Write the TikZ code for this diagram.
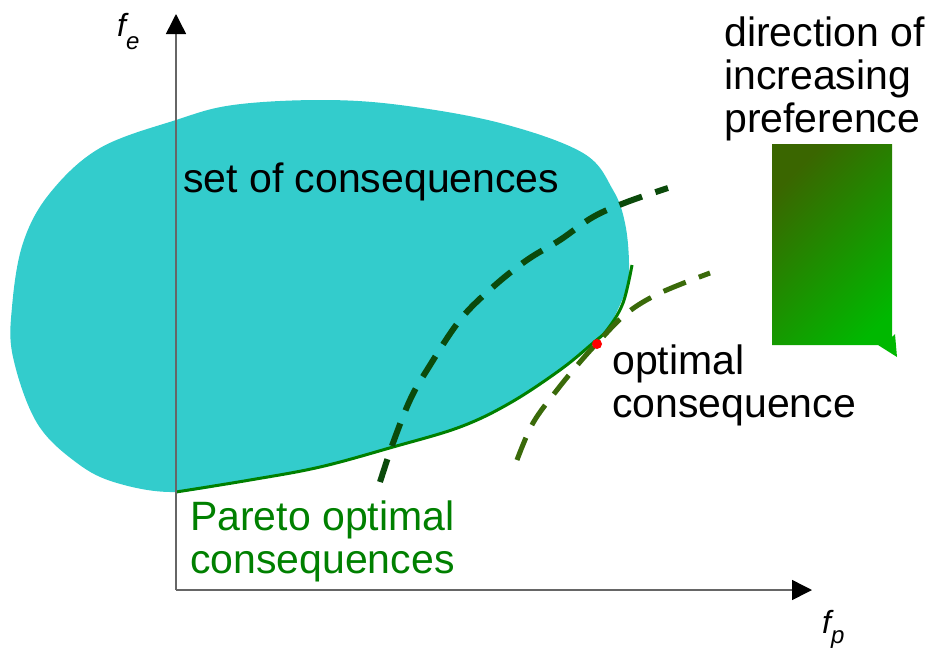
\documentclass[tikz,border=0pt]{standalone}
\usepackage{fontspec}
\setmainfont{Liberation Sans}
\usetikzlibrary{arrows.meta}
\definecolor{blob}{HTML}{33CCCC}
\definecolor{pareto}{HTML}{008000}
\definecolor{dashA}{HTML}{0B4A0B}
\definecolor{dashB}{HTML}{3A6A0A}
\definecolor{shadeA}{HTML}{3A6600}
\definecolor{shadeM}{HTML}{10A500}
\definecolor{shadeB}{HTML}{00B800}
\begin{document}
\begin{tikzpicture}[x=1pt,y=-1pt,
  axis/.style={draw=black!60, line width=1.5pt, -{Triangle[length=20pt,width=20pt,color=black]}},
  lbl/.style={inner sep=0pt, font=\fontsize{41}{43}\selectfont, anchor=base west, align=left},
  prefline/.style={line width=6pt, dash pattern=on 24pt off 14pt},
  axlbl/.style={inner sep=0pt, anchor=base west, font=\fontsize{32}{34}\selectfont\itshape}
]
\useasboundingbox (0,0) rectangle (943,649);

% set of consequences
\fill[blob] plot[smooth cycle, tension=0.6] coordinates {
  (176,492) (117,483) (77,463) (37,423) (13,357) (12,307) (23,243) (50,193)
  (100,148) (176,120) (233,105) (320,100) (400,105) (500,123) (583,153)
  (613,190) (625,223) (629,263) (626,290) (607,330) (593,343) (560,370)
  (510,403) (460,427) (393,447) (320,467) (250,480)};

% Pareto optimal boundary
\draw[pareto, line width=3pt] plot[smooth, tension=0.6] coordinates {
  (176,492) (250,480) (320,467) (393,447) (460,427) (510,403) (560,370)
  (593,343) (607,330) (623,303) (632,265)};

% indifference curves
\draw[dashA, prefline] plot[smooth, tension=0.6] coordinates {
  (380,482) (393,443) (410,400) (427,370) (460,320) (493,287) (527,260)
  (560,240) (593,217) (627,202) (668,188)};
\draw[dashB, prefline, line width=5pt] plot[smooth, tension=0.6] coordinates {
  (517,460) (533,423) (557,390) (580,362) (600,340) (627,313) (660,293) (710,273)};

% optimal point
\node[circle, fill=red, inner sep=0pt, minimum size=10pt] (opt) at (597,344) {};

% axes
\coordinate (o) at (176,590);
\coordinate (ytip) at (176,14);
\coordinate (xtip) at (812,590);
\draw[axis] (o) -- (ytip);
\draw[axis] (o) -- (xtip);

\node[axlbl] (fe) at (117,36) {f\raisebox{-13pt}{\fontsize{24}{26}\selectfont e}};
\node[axlbl] (fp) at (822,633) {f\raisebox{-10pt}{\fontsize{24}{26}\selectfont p}};

% preference arrow
\shade[top color=shadeA, middle color=shadeM, bottom color=shadeB, shading angle=45]
  (772,144) -- (892,144) -- (892,337) -- (895,334) -- (897,357) -- (878,345) -- (772,345) -- cycle;

% labels
\node[lbl] (setlbl) at (183,192) {set of consequences};
\node[lbl] (dirlbl) at (724,132) {direction of\\increasing\\preference};
\node[lbl] (optlbl) at (612,417) {optimal\\consequence};
\node[lbl, text=pareto] (parlbl) at (190,573) {Pareto optimal\\consequences};
\end{tikzpicture}
\end{document}
